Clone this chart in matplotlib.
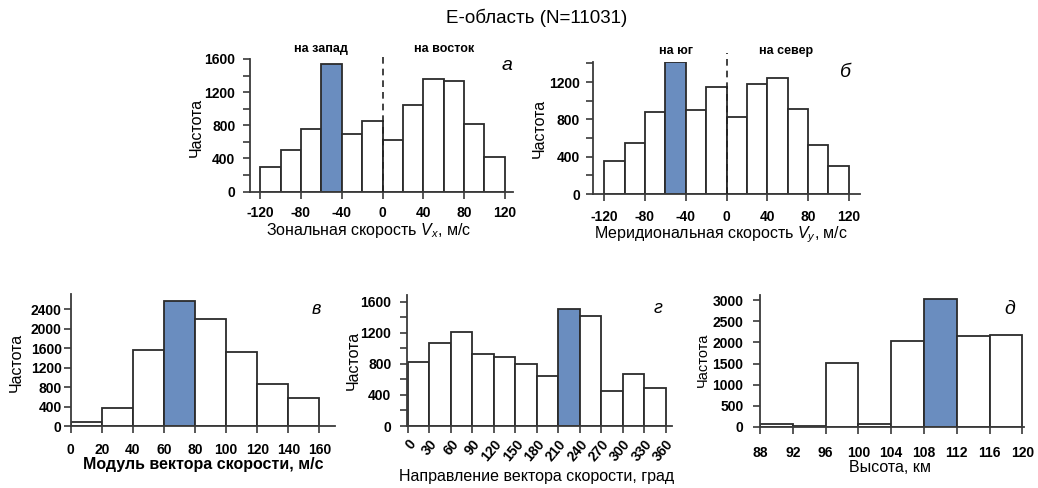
import matplotlib
matplotlib.use("Agg")
import matplotlib.pyplot as plt
from matplotlib.ticker import MultipleLocator

plt.rcParams['font.family'] = ['Liberation Sans', 'DejaVu Sans']
plt.rcParams['axes.unicode_minus'] = False
plt.rcParams['mathtext.fontset'] = 'custom'
plt.rcParams['mathtext.rm'] = 'Liberation Sans'
plt.rcParams['mathtext.it'] = 'Liberation Sans:italic'

W, H = 1038, 488

# ---- data ----
vx_edges = [-120, -100, -80, -60, -40, -20, 0, 20, 40, 60, 80, 100, 120]
vx_counts = [290, 500, 750, 1540, 700, 850, 625, 1050, 1360, 1330, 810, 420]

vy_edges = [-120, -100, -80, -60, -40, -20, 0, 20, 40, 60, 80, 100, 120]
vy_counts = [350, 550, 880, 1410, 900, 1150, 830, 1180, 1240, 910, 530, 300]

mod_edges = [0, 20, 40, 60, 80, 100, 120, 140, 160]
mod_counts = [90, 375, 1560, 2570, 2200, 1510, 855, 580]

dir_edges = [0, 30, 60, 90, 120, 150, 180, 210, 240, 270, 300, 330, 360]
dir_counts = [820, 1065, 1215, 930, 895, 800, 650, 1515, 1415, 450, 670, 490]

h_edges = [88, 92, 96, 100, 104, 108, 112, 116, 120]
h_counts = [60, 20, 1505, 60, 2035, 3025, 2140, 2170]

highlight = {'a': 3, 'b': 3, 'c': 3, 'd': 7, 'e': 5}

BLUE = '#6a8dbf'
EDGE = '#2b2b2b'
SPINE = '#3a3a3a'
TICKFS = 10
LABFS = 11.5

fig = plt.figure(figsize=(W / 100, H / 100), dpi=100)


def add_ax(left, top, right, bottom):
    ax = fig.add_axes([left / W, 1 - bottom / H, (right - left) / W, (bottom - top) / H])
    ax._px = (left, top, right, bottom)
    return ax


def px_to_axes(ax, x, y):
    left, top, right, bottom = ax._px
    return (x - left) / (right - left), (bottom - y) / (bottom - top)


def hist(ax, edges, counts, hi, xpad, ypad):
    widths = [edges[i + 1] - edges[i] for i in range(len(counts))]
    colors = ['white'] * len(counts)
    colors[hi] = BLUE
    ax.bar(edges[:-1], counts, width=widths, align='edge', color=colors,
           edgecolor=EDGE, linewidth=1.3, zorder=2)
    for s in ['top', 'right']:
        ax.spines[s].set_visible(False)
    for s in ['left', 'bottom']:
        ax.spines[s].set_linewidth(1.3)
        ax.spines[s].set_color(SPINE)
        ax.spines[s].set_zorder(3)
    ax.tick_params(axis='both', which='both', direction='out', color=SPINE, width=1.2)
    ax.tick_params(axis='both', which='major', length=5, labelsize=TICKFS)
    ax.tick_params(axis='x', which='major', pad=xpad)
    ax.tick_params(axis='y', which='major', pad=ypad)
    ax.tick_params(axis='y', which='minor', length=5)


def finish(ax, xlabel, xlab_px, ylab_px, bold_x=False, yfs=LABFS):
    for lab in ax.get_xticklabels() + ax.get_yticklabels():
        lab.set_fontweight('bold')
    ax.set_xlabel(xlabel, fontsize=LABFS, fontweight='bold' if bold_x else 'normal',
                  va='center', ha='center')
    ax.xaxis.set_label_coords(*px_to_axes(ax, *xlab_px))
    ax.set_ylabel('Частота', fontsize=yfs, va='center', ha='center')
    ax.yaxis.set_label_coords(*px_to_axes(ax, *ylab_px))


# panel a
axa = add_ax(250, 59, 513, 191.5)
hist(axa, vx_edges, vx_counts, highlight['a'], 5.6, 5.6)
axa.set_xlim(-130, 128)
axa.set_ylim(0, 1600)
axa.xaxis.set_major_locator(MultipleLocator(40))
axa.yaxis.set_major_locator(MultipleLocator(400))
axa.yaxis.set_minor_locator(MultipleLocator(200))
finish(axa, 'Зональная скорость $V_x$, м/с', (369, 231), (196, 127))
axa.plot([0, 0], [0, 1690], ls=(0, (4, 3)), color='#222222', lw=1.2, clip_on=False, zorder=4)
axa.text(-60, 1720, 'на запад', ha='center', va='center', fontsize=9, fontweight='bold')
axa.text(60, 1720, 'на восток', ha='center', va='center', fontsize=9, fontweight='bold')
axa.text(122, 1520, 'а', ha='center', va='center', fontsize=14, style='italic')

# panel b
axb = add_ax(593, 62, 860, 194)
hist(axb, vy_edges, vy_counts, highlight['b'], 6.3, 4.2)
axb.set_xlim(-131, 131)
axb.set_ylim(0, 1415)
axb.xaxis.set_major_locator(MultipleLocator(40))
axb.yaxis.set_major_locator(MultipleLocator(400))
axb.yaxis.set_minor_locator(MultipleLocator(200))
finish(axb, 'Меридиональная скорость $V_y$, м/с', (721, 235), (539, 128))
axb.plot([0, 0], [0, 1510], ls=(0, (4, 3)), color='#222222', lw=1.2, clip_on=False, zorder=4)
axb.text(-50, 1530, 'на юг', ha='center', va='center', fontsize=9, fontweight='bold')
axb.text(58, 1530, 'на север', ha='center', va='center', fontsize=9, fontweight='bold')
axb.text(117, 1300, 'б', ha='center', va='center', fontsize=14, style='italic')

# panel c
axc = add_ax(70.7, 294, 335, 426)
hist(axc, mod_edges, mod_counts, highlight['c'], 7, 1.5)
axc.set_xlim(0, 170)
axc.set_ylim(0, 2710)
axc.xaxis.set_major_locator(MultipleLocator(20))
axc.yaxis.set_major_locator(MultipleLocator(400))
finish(axc, 'Модуль вектора скорости, м/с', (203, 465), (16, 362), bold_x=True)
axc.text(158, 2400, 'в', ha='center', va='center', fontsize=13, style='italic')

# panel d
axd = add_ax(407, 295, 672, 426)
hist(axd, dir_edges, dir_counts, highlight['d'], 3, 6.3)
axd.set_xlim(-1, 369)
axd.set_ylim(0, 1690)
axd.xaxis.set_major_locator(MultipleLocator(30))
axd.yaxis.set_major_locator(MultipleLocator(400))
axd.yaxis.set_minor_locator(MultipleLocator(200))
finish(axd, 'Направление вектора скорости, град', (537, 477), (353, 360))
for lab in axd.get_xticklabels():
    lab.set_rotation(50)
    lab.set_ha('right')
    lab.set_rotation_mode('anchor')
axd.text(350, 1520, 'г', ha='center', va='center', fontsize=13, style='italic')

# panel e
axe = add_ax(760, 295, 1024, 427)
hist(axe, h_edges, h_counts, highlight['e'], 9, 7)
axe.set_xlim(88, 120.2)
axe.set_ylim(0, 3120)
axe.xaxis.set_major_locator(MultipleLocator(4))
axe.yaxis.set_major_locator(MultipleLocator(500))
finish(axe, 'Высота, км', (890, 467), (703, 360), yfs=10.5)
axe.text(118.5, 2770, 'д', ha='center', va='center', fontsize=14, style='italic')

fig.text(537 / W, 1 - 18 / H, 'E-область (N=11031)', ha='center', va='center', fontsize=13.5)

fig.savefig('out.png', dpi=100)
